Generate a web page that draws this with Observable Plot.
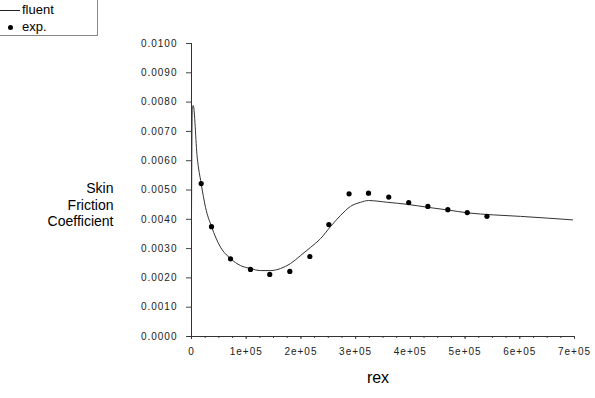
<!DOCTYPE html>
<html>
<head>
<meta charset="utf-8">
<script src="https://cdn.jsdelivr.net/npm/d3@7"></script>
<script src="https://cdn.jsdelivr.net/npm/@observablehq/plot@0.6"></script>
<style>
  html, body { margin: 0; padding: 0; background: #fff; }
  #wrap { position: relative; width: 595px; height: 398px; font-family: "Liberation Sans", Arial, sans-serif; }
  #legend { position: absolute; left: 0; top: 0; width: 97px; height: 35px; border: 1px solid #888; border-left: none; border-top: none; background: #fff; font-size: 13px; color: #000; }
  #legend .row { position: absolute; left: 0; height: 16px; line-height: 16px; }
  #chart g[aria-label="x-axis tick label"] text, #chart g[aria-label="y-axis tick label"] text { letter-spacing: 1px; }
</style>
</head>
<body>
<div id="wrap">
  <div id="chart"></div>
  <div id="legend">
    <div class="row" style="top:2px;"><span style="display:inline-block;width:20px;height:1px;background:#222;vertical-align:middle;margin-right:2px;"></span>fluent</div>
    <div class="row" style="top:19px;"><span style="display:inline-block;width:5px;height:5px;border-radius:50%;background:#000;vertical-align:middle;margin-left:8px;margin-right:9px;"></span>exp.</div>
  </div>
</div>
<script>
// fluent (CFD) skin friction curve
const rexLine = [0, 1500, 3100, 10400, 17700, 25600, 36600, 53000, 71300, 89600, 107800, 126100, 144400, 162700, 181000, 199200, 217500, 235800, 254000, 272300, 290600, 308900, 323500, 358200, 394800, 431400, 467900, 504500, 552000, 601300, 650700, 696400];
const cfLine  = [0.00410, 0.00785, 0.00788, 0.00612, 0.00522, 0.00441, 0.00375, 0.00305, 0.00266, 0.00242, 0.00232, 0.00225, 0.00225, 0.00232, 0.00249, 0.00276, 0.00304, 0.00334, 0.00375, 0.00413, 0.00444, 0.00458, 0.00464, 0.00458, 0.00451, 0.00441, 0.00432, 0.00422, 0.00415, 0.00410, 0.00404, 0.00398];
// experimental points
const rexExp = [17700, 36600, 71300, 107800, 143000, 179700, 216300, 251000, 288000, 323500, 360500, 397000, 432000, 468500, 504000, 540000];
const cfExp  = [0.00522, 0.00375, 0.00265, 0.00229, 0.00212, 0.00222, 0.00273, 0.00382, 0.00487, 0.00489, 0.00476, 0.00457, 0.00444, 0.00433, 0.00423, 0.00410];
// ticks
const xTicks = [0, 100000, 200000, 300000, 400000, 500000, 600000, 700000];
const xTickLabels = ["0", "1e+05", "2e+05", "3e+05", "4e+05", "5e+05", "6e+05", "7e+05"];
const xMinorTicks = d3.range(0, 700001, 25000);
const yTicks = [0, 0.001, 0.002, 0.003, 0.004, 0.005, 0.006, 0.007, 0.008, 0.009, 0.010];
const yTickLabels = ["0.0000", "0.0010", "0.0020", "0.0030", "0.0040", "0.0050", "0.0060", "0.0070", "0.0080", "0.0090", "0.0100"];
const yLabelLines = ["Skin", "Friction", "Coefficient"];
const xLabel = "rex";

const lineData = rexLine.map((x, i) => ({x, y: cfLine[i]}));
const expData = rexExp.map((x, i) => ({x, y: cfExp[i]}));

const chart = Plot.plot({
  width: 595,
  height: 398,
  marginLeft: 191,
  marginRight: 21,
  marginTop: 43,
  marginBottom: 62,
  style: {fontFamily: "'Liberation Sans', Arial, sans-serif", background: "#fff", color: "#222"},
  x: {domain: [0, 700000]},
  y: {domain: [0, 0.01]},
  marks: [
    Plot.axisX(xMinorTicks, {tickSize: 2, tickFormat: () => "", stroke: "#444", label: null}),
    Plot.axisX(xTicks, {tickSize: 3, tickPadding: 8, tickFormat: (d) => xTickLabels[xTicks.indexOf(d)], fontSize: 10, fill: "#222", stroke: "#444", label: null}),
    Plot.axisY(yTicks, {tickSize: 5, tickPadding: 9, tickFormat: (d) => yTickLabels[yTicks.indexOf(d)], fontSize: 10, fill: "#222", stroke: "#444", label: null}),
    Plot.ruleX([0], {stroke: "#333", y1: -0.0001, y2: 0.01}),
    Plot.ruleY([0], {stroke: "#333", x1: -6000, x2: 700000}),
    Plot.line(lineData, {x: "x", y: "y", stroke: "#333", strokeWidth: 1, curve: "monotone-x"}),
    Plot.dot(expData, {x: "x", y: "y", r: 2.6, fill: "#000", stroke: "none"}),
    ...yLabelLines.map((t, i) => Plot.text([t], {text: (d) => d, frameAnchor: "left", textAnchor: "end", dx: -78, dy: -1 + i * 16.5, fontSize: 14, fill: "#000"})),
    Plot.text([xLabel], {text: (d) => d, frameAnchor: "bottom", dx: -5, dy: 46, fontSize: 16, fill: "#000"})
  ]
});
document.getElementById("chart").appendChild(chart);
</script>
</body>
</html>
